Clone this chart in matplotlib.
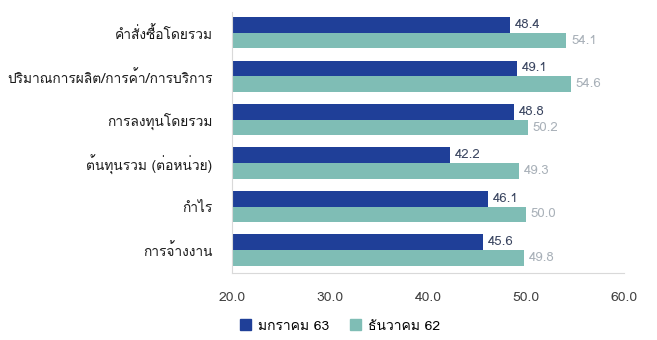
import matplotlib
matplotlib.use("Agg")
import matplotlib.pyplot as plt
from matplotlib import font_manager
from matplotlib.ft2font import FT2Font
from matplotlib.patches import Patch

categories = ["คำสั่งซื้อโดยรวม", "ปริมาณการผลิต/การค้า/การบริการ", "การลงทุนโดยรวม",
              "ต้นทุนรวม (ต่อหน่วย)", "กำไร", "การจ้างงาน"]
jan63 = [48.4, 49.1, 48.8, 42.2, 46.1, 45.6]
dec62 = [54.1, 54.6, 50.2, 49.3, 50.0, 49.8]
series_names = ["มกราคม 63", "ธันวาคม 62"]
xticks = [20.0, 30.0, 40.0, 50.0, 60.0]

# find a font that has Thai glyphs
thai_family = None
for f in font_manager.fontManager.ttflist:
    try:
        ft = FT2Font(f.fname)
        cm = ft.get_charmap()
        if 0x0E01 in cm and 0x0E33 in cm:
            thai_family = f.name
            break
    except Exception:
        continue
fams = ([thai_family] if thai_family else []) + ["DejaVu Sans"]
plt.rcParams['font.family'] = fams

dark = "#1f3f98"
light = "#7fbdb5"

fig = plt.figure(figsize=(6.57, 3.40), dpi=100)
ax = fig.add_axes([232/657, 1-273/340, (624-232)/657, (273-12)/340])

h = 0.36
ys = list(range(len(categories)))
ax.barh([y - h/2 for y in ys], jan63, height=h, color=dark, left=0)
ax.barh([y + h/2 for y in ys], dec62, height=h, color=light, left=0)
for y, v in zip(ys, jan63):
    ax.text(v + 0.5, y - h/2, f"{v:.1f}", va="center", ha="left", fontsize=9.5, color="#3a4560")
for y, v in zip(ys, dec62):
    ax.text(v + 0.5, y + h/2, f"{v:.1f}", va="center", ha="left", fontsize=9.5, color="#a8b0b8")

ax.set_xlim(20, 60)
ax.set_ylim(5.53, -0.48)
ax.set_xticks(xticks)
ax.set_xticklabels([f"{t:.1f}" for t in xticks], fontsize=10, color="#404040")
ax.set_yticks(ys)
ax.set_yticklabels(categories, fontsize=9.9, color="#1a1a1a")
ax.tick_params(axis="both", length=0)
ax.tick_params(axis="x", pad=14)
ax.tick_params(axis="y", pad=14)
for s in ["top", "right"]:
    ax.spines[s].set_visible(False)
ax.spines["left"].set_color("#d9d9d9")
ax.spines["bottom"].set_color("#d9d9d9")

handles = [Patch(color=dark), Patch(color=light)]
fig.legend(handles, series_names, loc="center", bbox_to_anchor=(340/657, 1-326/340),
           ncol=2, frameon=False, fontsize=10, handlelength=0.8, handleheight=0.8,
           columnspacing=1.5, handletextpad=0.5)

fig.savefig("out.png", dpi=100)
